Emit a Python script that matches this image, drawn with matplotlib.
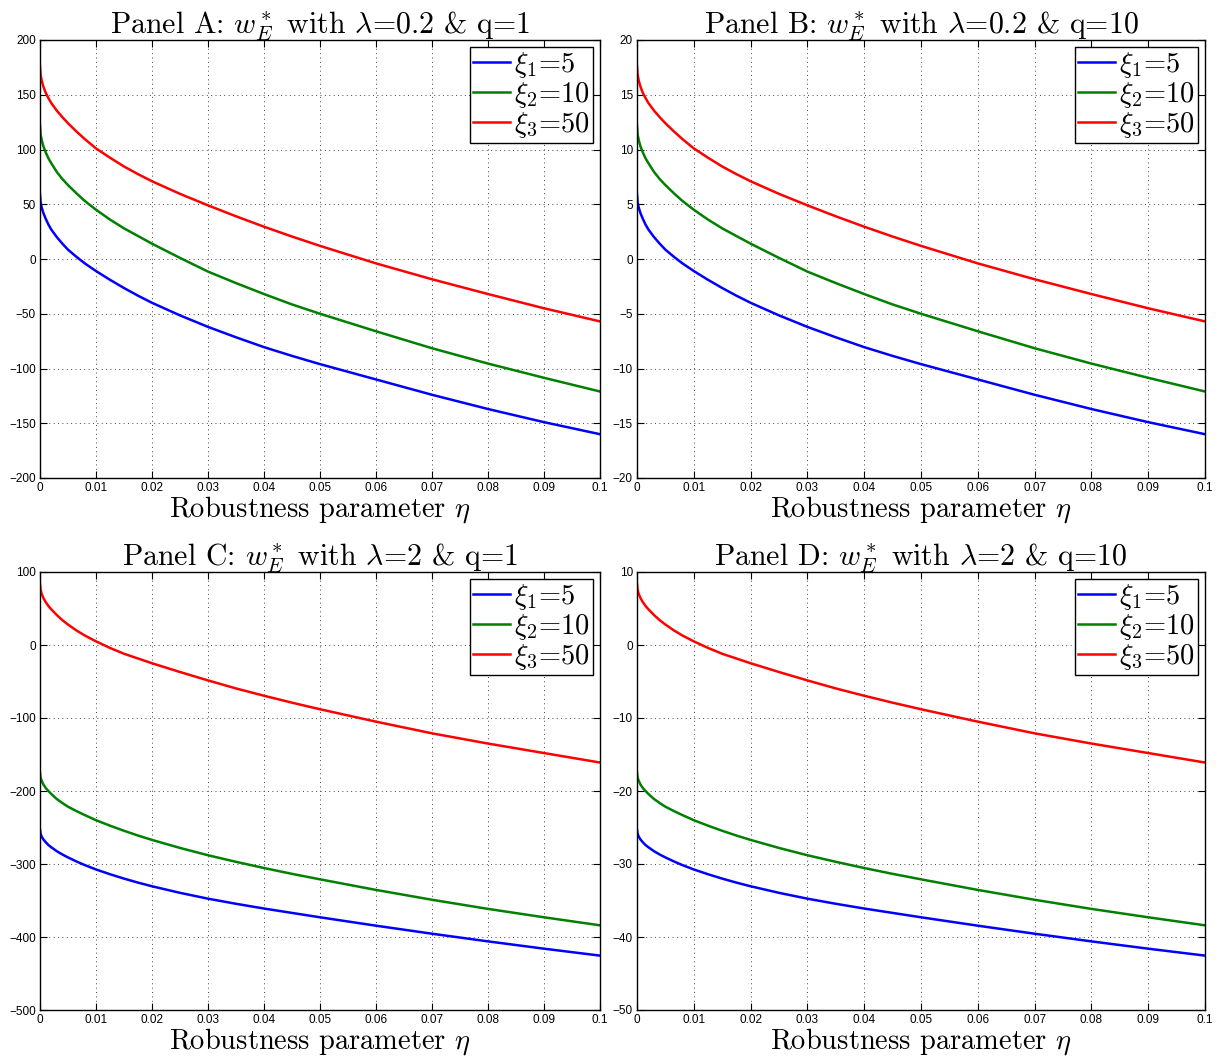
import numpy as np
import matplotlib
matplotlib.use("Agg")
import matplotlib.pyplot as plt

# --- data (eta grid, one list per curve) ---
eta = [0, 0.0001, 0.0003, 0.0006, 0.001, 0.0015, 0.002, 0.003, 0.004, 0.005,
       0.0065, 0.008, 0.01, 0.0125, 0.015, 0.0175, 0.02, 0.025, 0.03, 0.035,
       0.04, 0.045, 0.05, 0.06, 0.07, 0.08, 0.09, 0.1]

# Panel A: lambda=0.2, q=1
a_xi1 = [59, 52, 47, 42, 37, 31.5, 27, 20, 14, 8.5, 2, -4, -11, -19, -26.5, -33.5,
         -40, -51.5, -62, -71.5, -80.5, -88.5, -96, -110, -124, -137, -149, -160]
a_xi2 = [122, 114, 108.7, 103, 97.6, 92, 87.6, 79.5, 73, 67.5, 60, 53, 45, 36, 28, 21,
         14, 1, -11.5, -22, -32, -41.5, -50, -66, -81.5, -95.5, -108.5, -121]
a_xi3 = [176, 168.5, 163, 157.5, 152, 147, 142.5, 135.5, 129.5, 124, 116.5, 109.5, 101, 92.5, 84.5, 77.5,
         71, 59.5, 49, 39, 29.5, 20.5, 12, -4, -18.5, -32, -45, -57]

# Panel B: lambda=0.2, q=10
b_xi1 = [5.9, 5.2, 4.7, 4.2, 3.7, 3.15, 2.7, 2.0, 1.4, 0.85, 0.2, -0.4, -1.1, -1.9, -2.65, -3.35,
         -4.0, -5.15, -6.2, -7.15, -8.05, -8.85, -9.6, -11.0, -12.4, -13.7, -14.9, -16.0]
b_xi2 = [12.2, 11.4, 10.87, 10.3, 9.76, 9.2, 8.76, 7.95, 7.3, 6.75, 6.0, 5.3, 4.5, 3.6, 2.8, 2.1,
         1.4, 0.1, -1.15, -2.2, -3.2, -4.15, -5.0, -6.6, -8.15, -9.55, -10.85, -12.1]
b_xi3 = [17.6, 16.85, 16.3, 15.75, 15.2, 14.7, 14.25, 13.55, 12.95, 12.4, 11.65, 10.95, 10.1, 9.25, 8.45, 7.75,
         7.1, 5.95, 4.9, 3.9, 2.95, 2.05, 1.2, -0.4, -1.85, -3.2, -4.5, -5.7]

# Panel C: lambda=2, q=1
c_xi1 = [-253, -258.5, -262.5, -266.3, -270, -274, -277, -282.5, -287, -291, -296.5, -301.5, -307.5, -314,
         -320, -325.5, -330.5, -339.5, -347.5, -354.5, -361, -367, -373, -384.5, -395.5, -406, -416, -425.5]
c_xi2 = [-175, -181.5, -186, -191, -195.7, -200, -204, -211, -216.5, -221.5, -227.5, -233, -240, -247.5,
         -254.5, -261, -267, -278, -288, -297, -305.5, -313.5, -321, -335.5, -349, -361.5, -373, -384]
c_xi3 = [84, 76, 70, 64.5, 59, 53.5, 49, 41, 34, 28, 20, 13, 5, -4, -12, -18.5,
         -25, -37, -48.5, -59.5, -69.5, -79, -88, -105, -121, -135, -148, -161]

# Panel D: lambda=2, q=10
d_xi1 = [-25.3, -25.85, -26.25, -26.63, -27.0, -27.4, -27.7, -28.25, -28.7, -29.1, -29.65, -30.15, -30.75, -31.4,
         -32.0, -32.55, -33.05, -33.95, -34.75, -35.45, -36.1, -36.7, -37.3, -38.45, -39.55, -40.6, -41.6, -42.55]
d_xi2 = [-17.5, -18.15, -18.6, -19.1, -19.57, -20.0, -20.4, -21.1, -21.65, -22.15, -22.75, -23.3, -24.0, -24.75,
         -25.45, -26.1, -26.7, -27.8, -28.8, -29.7, -30.55, -31.35, -32.1, -33.55, -34.9, -36.15, -37.3, -38.4]
d_xi3 = [8.4, 7.6, 7.0, 6.45, 5.9, 5.35, 4.9, 4.1, 3.4, 2.8, 2.0, 1.3, 0.5, -0.4, -1.2, -1.85,
         -2.5, -3.7, -4.85, -5.95, -6.95, -7.9, -8.8, -10.5, -12.1, -13.5, -14.8, -16.1]

legend_labels = [r'$\xi_1$=5', r'$\xi_2$=10', r'$\xi_3$=50']
titles = [r'Panel A: $w_E^*$ with $\lambda$=0.2 & q=1',
          r'Panel B: $w_E^*$ with $\lambda$=0.2 & q=10',
          r'Panel C: $w_E^*$ with $\lambda$=2 & q=1',
          r'Panel D: $w_E^*$ with $\lambda$=2 & q=10']
ylims = [(-200, 200), (-20, 20), (-500, 100), (-50, 10)]
yticks = [np.arange(-200, 201, 50), np.arange(-20, 21, 5),
          np.arange(-500, 101, 100), np.arange(-50, 11, 10)]
xticks = [0, 0.01, 0.02, 0.03, 0.04, 0.05, 0.06, 0.07, 0.08, 0.09, 0.1]
xticklabels = ['0', '0.01', '0.02', '0.03', '0.04', '0.05', '0.06', '0.07', '0.08', '0.09', '0.1']

series = [(a_xi1, a_xi2, a_xi3), (b_xi1, b_xi2, b_xi3),
          (c_xi1, c_xi2, c_xi3), (d_xi1, d_xi2, d_xi3)]
colors = ['#0000ff', '#008000', '#ff0000']

plt.rcParams['font.family'] = 'cmr10'
plt.rcParams['mathtext.fontset'] = 'cm'
plt.rcParams['axes.formatter.use_mathtext'] = True

W, H = 1227, 1062
fig = plt.figure(figsize=(W / 100, H / 100), dpi=100)

# axes boxes in pixels: left, top, right, bottom
boxes = [(40, 40, 600, 478), (637, 40, 1205, 478),
         (40, 572, 600, 1010), (637, 572, 1205, 1010)]

for i, (l, t, r, b) in enumerate(boxes):
    ax = fig.add_axes([l / W, 1 - b / H, (r - l) / W, (b - t) / H])
    for ys, c, lab in zip(series[i], colors, legend_labels):
        ax.plot(eta, ys, color=c, linewidth=1.8, label=lab)
    ax.set_xlim(0, 0.1)
    ax.set_ylim(*ylims[i])
    ax.set_xticks(xticks)
    ax.set_xticklabels(xticklabels)
    ax.set_yticks(yticks[i])
    ax.set_yticklabels([str(v) if v >= 0 else '\u2212' + str(-v) for v in yticks[i]])
    ax.tick_params(direction='in', top=True, right=True, length=5, width=0.8,
                   labelsize=8.5, labelfontfamily='Liberation Sans', pad=3)
    ax.grid(True, linestyle=(0, (1, 3.5)), color='#444444', linewidth=0.7)
    for sp in ax.spines.values():
        sp.set_linewidth(1.0)
    ax.set_title(titles[i], fontsize=21.5, pad=5)
    ax.set_xlabel(r'Robustness parameter $\eta$', fontsize=20.5, labelpad=0)
    leg = ax.legend(loc='upper right', fontsize=20.5, fancybox=False, framealpha=1,
                    edgecolor='black', handlelength=1.3, handletextpad=0.15,
                    labelspacing=0.0, borderpad=0.1, borderaxespad=0.25)
    leg.get_frame().set_linewidth(1.0)

fig.savefig('out.png', dpi=100)
